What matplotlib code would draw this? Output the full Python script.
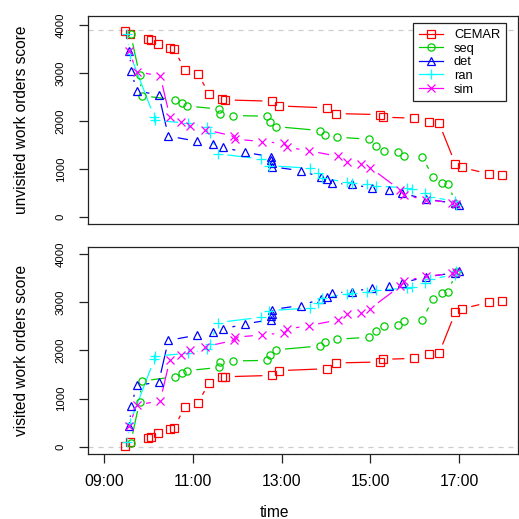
import numpy as np
import matplotlib
matplotlib.use("Agg")
import matplotlib.pyplot as plt
from matplotlib.lines import Line2D

plt.rcParams['font.family'] = ['Liberation Sans', 'DejaVu Sans']

# ---------------- data ----------------
TOTAL_SCORE = 3890

series_names = ["CEMAR", "seq", "det", "ran", "sim"]
series_colors = ["#FF0000", "#00CD00", "#0000FF", "#00FFFF", "#FF00FF"]
series_markers = ["s", "o", "^", "+", "x"]
marker_sizes = [5.2, 5.2, 6.0, 7.0, 5.2]

cemar_time = ["09:29", "09:35", "09:59", "10:03", "10:13", "10:29", "10:35", "10:49",
              "11:07", "11:22", "11:40", "11:44", "12:47", "12:56", "14:01", "14:14",
              "15:13", "15:17", "15:59", "16:20", "16:33", "16:55", "17:04", "17:40", "17:58"]
cemar_unvisited = [3875, 3802, 3708, 3688, 3604, 3515, 3494, 3069, 2985, 2562, 2452, 2438,
                   2410, 2312, 2271, 2152, 2131, 2077, 2056, 1973, 1952, 1104, 1027, 896, 860]
cemar_visited = [15, 88, 182, 202, 286, 375, 396, 821, 905, 1328, 1438, 1452,
                 1480, 1578, 1619, 1738, 1759, 1813, 1834, 1917, 1938, 2786, 2863, 2994, 3030]

seq_time = ["09:36", "09:48", "09:51", "10:36", "10:45", "10:52", "11:36", "11:37", "11:55",
            "12:41", "12:45", "12:52", "13:52", "13:59", "14:15", "14:58", "15:08", "15:19",
            "15:37", "15:46", "16:10", "16:25", "16:37", "16:45", "16:56"]
seq_unvisited = [3812, 2958, 2527, 2438, 2369, 2312, 2244, 2140, 2110, 2098, 1985, 1881,
                 1798, 1708, 1660, 1618, 1479, 1375, 1354, 1271, 1256, 827, 702, 688, 270]
seq_visited = [78, 932, 1363, 1452, 1521, 1578, 1646, 1750, 1780, 1792, 1905, 2009,
               2092, 2182, 2230, 2272, 2411, 2515, 2536, 2619, 2634, 3063, 3188, 3202, 3620]

det_time = ["09:34", "09:37", "09:44", "10:14", "10:27", "11:06", "11:27", "11:41", "12:10",
            "12:46", "12:46", "12:47", "12:47", "13:26", "13:54", "14:01", "14:08", "14:35",
            "15:03", "15:25", "15:43", "16:15", "16:54", "17:00"]
det_unvisited = [3465, 3046, 2619, 2548, 1684, 1573, 1517, 1448, 1344, 1252, 1183, 1127,
                 1043, 960, 822, 787, 697, 676, 593, 551, 488, 369, 280, 244]
det_visited = [425, 844, 1271, 1342, 2206, 2317, 2373, 2442, 2546, 2638, 2707, 2763,
               2847, 2930, 3068, 3103, 3193, 3214, 3297, 3339, 3402, 3521, 3610, 3646]

ran_time = ["09:31", "09:35", "10:08", "10:09", "10:53", "11:19", "11:23", "11:34", "12:32",
            "12:43", "13:39", "13:50", "13:55", "14:29", "14:35", "14:56", "15:08", "15:50",
            "15:56", "16:14", "16:21", "16:54", "16:56"]
ran_unvisited = [3802, 3396, 2075, 2010, 1952, 1869, 1752, 1314, 1204, 1065, 1012, 912,
                 808, 716, 703, 689, 643, 599, 584, 501, 418, 319, 250]
ran_visited = [88, 494, 1815, 1880, 1938, 2021, 2138, 2576, 2686, 2825, 2878, 2978,
               3082, 3174, 3187, 3201, 3247, 3291, 3306, 3389, 3472, 3571, 3640]

sim_time = ["09:34", "09:44", "10:16", "10:29", "10:44", "10:56", "11:17", "11:56", "11:57",
            "12:34", "13:03", "13:07", "13:37", "14:17", "14:29", "14:48", "15:00", "15:40",
            "15:46", "16:15", "16:51", "16:56"]
sim_unvisited = [3465, 3027, 2937, 2083, 1979, 1890, 1813, 1681, 1618, 1569, 1528, 1450,
                 1377, 1258, 1133, 1106, 1023, 564, 449, 355, 293, 262]
sim_visited = [425, 863, 953, 1807, 1911, 2000, 2077, 2209, 2272, 2321, 2362, 2440,
               2513, 2632, 2757, 2784, 2867, 3326, 3441, 3535, 3597, 3628]

x_tick_labels = ["09:00", "11:00", "13:00", "15:00", "17:00"]
y_ticks = [0, 1000, 2000, 3000, 4000]

all_times = [cemar_time, seq_time, det_time, ran_time, sim_time]
all_unvisited = [cemar_unvisited, seq_unvisited, det_unvisited, ran_unvisited, sim_unvisited]
all_visited = [cemar_visited, seq_visited, det_visited, ran_visited, sim_visited]


def to_hours(t):
    h, m = t.split(":")
    return int(h) + int(m) / 60.0


# ---------------- figure ----------------
W = 519
fig = plt.figure(figsize=(W / 100, W / 100), dpi=100)


def px_axes(left, top, right, bottom):
    return fig.add_axes([left / W, 1 - bottom / W, (right - left) / W, (bottom - top) / W])


ax_top = px_axes(87.7, 16, 517.7, 224)
ax_bot = px_axes(87.7, 246.7, 517.7, 454)

XLIM = (8.632, 18.323)
ax_top.set_xlim(*XLIM)
ax_bot.set_xlim(*XLIM)
ax_top.set_ylim(-152, 4188)
ax_bot.set_ylim(-151, 4151)

LW = 0.9
GAP_PX = 9.5


def draw_b(ax, x, y, color, marker, ms):
    x = np.asarray(x, float)
    y = np.asarray(y, float)
    pts = ax.transData.transform(np.column_stack([x, y]))
    inv = ax.transData.inverted()
    for p0, p1 in zip(pts[:-1], pts[1:]):
        d = p1 - p0
        L = np.hypot(d[0], d[1])
        if L > 2 * GAP_PX:
            u = d / L
            seg = inv.transform(np.array([p0 + u * GAP_PX, p1 - u * GAP_PX]))
            ax.plot(seg[:, 0], seg[:, 1], color=color, lw=LW, solid_capstyle='butt', zorder=2)
    ax.plot(x, y, linestyle='none', marker=marker, ms=ms, mfc='none', mec=color,
            mew=LW, zorder=3)


for ax in (ax_top, ax_bot):
    for sp in ax.spines.values():
        sp.set_color('#222222')
        sp.set_linewidth(LW)
    ax.set_yticks(y_ticks)
    ax.set_yticklabels([str(v) for v in y_ticks])
    ax.tick_params(axis='y', length=6.8, width=LW, pad=9, labelsize=8.2, color='#222222')
    for lbl in ax.get_yticklabels():
        lbl.set_rotation(90)
        lbl.set_va('center')

ax_top.axhline(TOTAL_SCORE, color='#cccccc', lw=LW, ls=(0, (4, 4)), zorder=1)
ax_bot.axhline(0, color='#cccccc', lw=LW, ls=(0, (4, 4)), zorder=1)

for i in range(len(series_names)):
    hrs = [to_hours(t) for t in all_times[i]]
    draw_b(ax_top, hrs, all_unvisited[i], series_colors[i], series_markers[i], marker_sizes[i])
    draw_b(ax_bot, hrs, all_visited[i], series_colors[i], series_markers[i], marker_sizes[i])

ax_top.tick_params(axis='x', bottom=False, labelbottom=False)
ax_bot.set_xticks([to_hours(t) for t in x_tick_labels])
ax_bot.set_xticklabels(x_tick_labels)
ax_bot.tick_params(axis='x', length=6.8, width=LW, pad=7.3, labelsize=11.3, color='#222222')

handles = [Line2D([], [], color=series_colors[i], marker=series_markers[i], ms=marker_sizes[i],
                  mfc='none', mec=series_colors[i], mew=LW, lw=LW)
           for i in range(len(series_names))]
leg = ax_top.legend(handles, series_names, loc='upper right',
                    bbox_to_anchor=((506 - 87.7) / 430, (224 - 23.3) / 208),
                    borderaxespad=0, fontsize=9.3, frameon=True, fancybox=False,
                    edgecolor='#222222', framealpha=1, handlelength=1.86,
                    handletextpad=0.85, borderpad=0.45, labelspacing=0.12)
leg.get_frame().set_linewidth(LW)

fig.text(26.5 / W, 1 - 120 / W, "unvisited work orders score", rotation=90,
         rotation_mode='anchor', ha='center', va='baseline', fontsize=11.2)
fig.text(26.5 / W, 1 - 350 / W, "visited work orders score", rotation=90,
         rotation_mode='anchor', ha='center', va='baseline', fontsize=11.2)
fig.text(274.7 / W, 1 - 517 / W, "time", ha='center', va='baseline', fontsize=11.2)

fig.savefig("out.png", dpi=100)
